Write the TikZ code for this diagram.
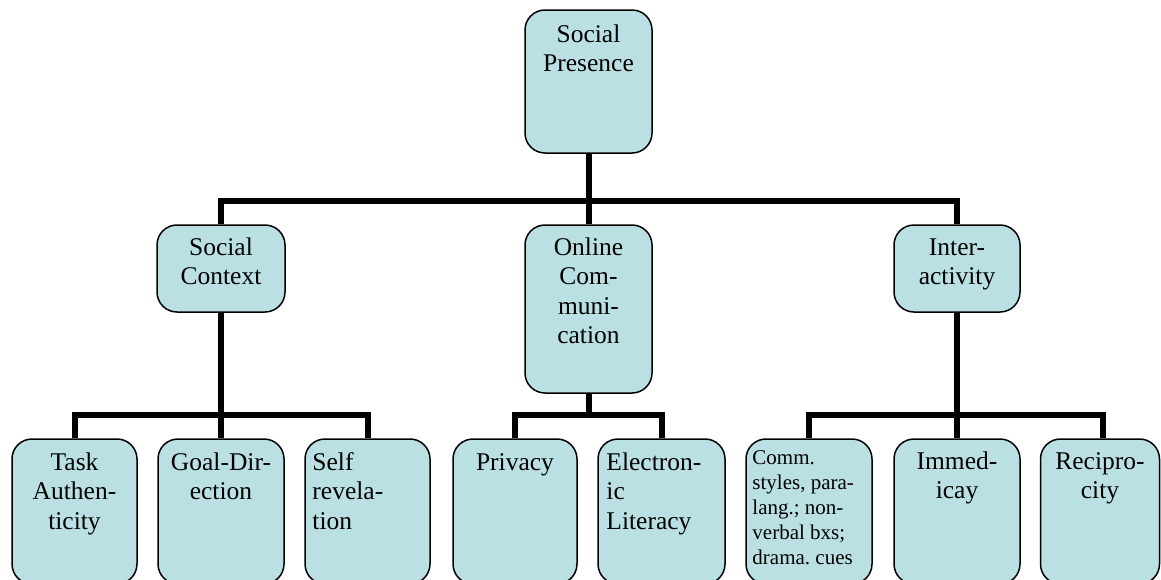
\documentclass[tikz,border=0pt]{standalone}
\usepackage{fontspec}
\setmainfont{Liberation Serif}
\frenchspacing
\definecolor{boxblue}{RGB}{186,224,228}

% text blocks: first line baseline is the block's baseline
\newcommand{\txtc}[1]{\parbox[t]{122pt}{\centering\fontsize{25.5}{29.5}\selectfont #1}}
\newcommand{\txtl}[1]{\parbox[t]{114pt}{\raggedright\fontsize{25.5}{29.5}\selectfont #1}}
\newcommand{\txts}[1]{\parbox[t]{118pt}{\raggedright\fontsize{21}{25}\selectfont #1}}

\begin{document}
\begin{tikzpicture}[x=1pt,y=-1pt,
  cbox/.style={draw=black, line width=1.5pt, fill=boxblue, rounded corners=20pt,
    inner sep=0pt, minimum width=#1},
  cbox/.default=126pt,
  ctr/.style={inner sep=0pt, anchor=base},
  lft/.style={inner sep=0pt, anchor=base west},
  link/.style={line width=6pt, line join=miter}]
\useasboundingbox (0,0) rectangle (1161,579);

% top level
\node[cbox=127pt, minimum height=143pt] (sp) at (588.5,81.5) {};

% second level
\node[cbox=128pt, minimum height=87pt]  (sc) at (221,268.5) {};
\node[cbox=127pt, minimum height=168pt] (oc) at (588.5,309) {};
\node[cbox=126pt, minimum height=87pt]  (ia) at (957,268.5) {};

% third level
\node[cbox=125pt, minimum height=145pt] (ta) at (74.5,511.5) {};
\node[cbox=126pt, minimum height=145pt] (gd) at (221,511.5) {};
\node[cbox=125pt, minimum height=145pt] (sr) at (367.5,511.5) {};
\node[cbox=124pt, minimum height=145pt] (pr) at (515,511.5) {};
\node[cbox=127pt, minimum height=145pt] (el) at (661.5,511.5) {};
\node[cbox=126pt, minimum height=145pt] (cs) at (809,511.5) {};
\node[cbox=126pt, minimum height=145pt] (im) at (957,511.5) {};
\node[cbox=119pt, minimum height=145pt] (rp) at (1100,511.5) {};

% labels
\node[ctr] (sp-t) at ([yshift=-33pt]sp.north) {\txtc{Social\\Presence}};
\node[ctr] (sc-t) at ([yshift=-31pt]sc.north) {\txtc{Social\\Context}};
\node[ctr] (oc-t) at ([yshift=-31pt]oc.north) {\txtc{Online\\Com-\\muni-\\cation}};
\node[ctr] (ia-t) at ([yshift=-31pt]ia.north) {\txtc{Inter-\\activity}};
\node[ctr] (ta-t) at ([yshift=-32pt]ta.north) {\txtc{Task\\Authen-\\ticity}};
\node[ctr] (gd-t) at ([yshift=-32pt]gd.north) {\txtc{Goal-Dir-\\ection}};
\node[lft] (sr-t) at ([xshift=8pt,yshift=-32pt]sr.north west) {\txtl{Self\\revela-\\tion}};
\node[ctr] (pr-t) at ([yshift=-32pt]pr.north) {\txtc{Privacy}};
\node[lft] (el-t) at ([xshift=9pt,yshift=-32pt]el.north west) {\txtl{Electron-\\ic\\Literacy}};
\node[lft] (cs-t) at ([xshift=7pt,yshift=-26pt]cs.north west) {\txts{Comm.\\styles, para-\\lang.; non-\\verbal bxs;\\drama. cues}};
\node[ctr] (im-t) at ([yshift=-31pt]im.north) {\txtc{Immed-\\icay}};
\node[ctr] (rp-t) at ([yshift=-31pt]rp.north) {\txtc{Recipro-\\city}};

% junctions
\coordinate (j1) at (588.5,201);
\coordinate (j2) at (221,415);
\coordinate (j3) at (588.5,415);
\coordinate (j4) at (957,415);

% connectors
\draw[link] (sp.south) -- (oc.north);
\draw[link] (sc.north) |- (j1) -| (ia.north);

\draw[link] (sc.south) -- (gd.north);
\draw[link] (ta.north) |- (j2) -| (sr.north);

\draw[link] (oc.south) -- (j3);
\draw[link] (pr.north) |- (j3) -| (el.north);

\draw[link] (ia.south) -- (im.north);
\draw[link] (cs.north) |- (j4) -| ([xshift=3pt]rp.north);
\end{tikzpicture}
\end{document}
